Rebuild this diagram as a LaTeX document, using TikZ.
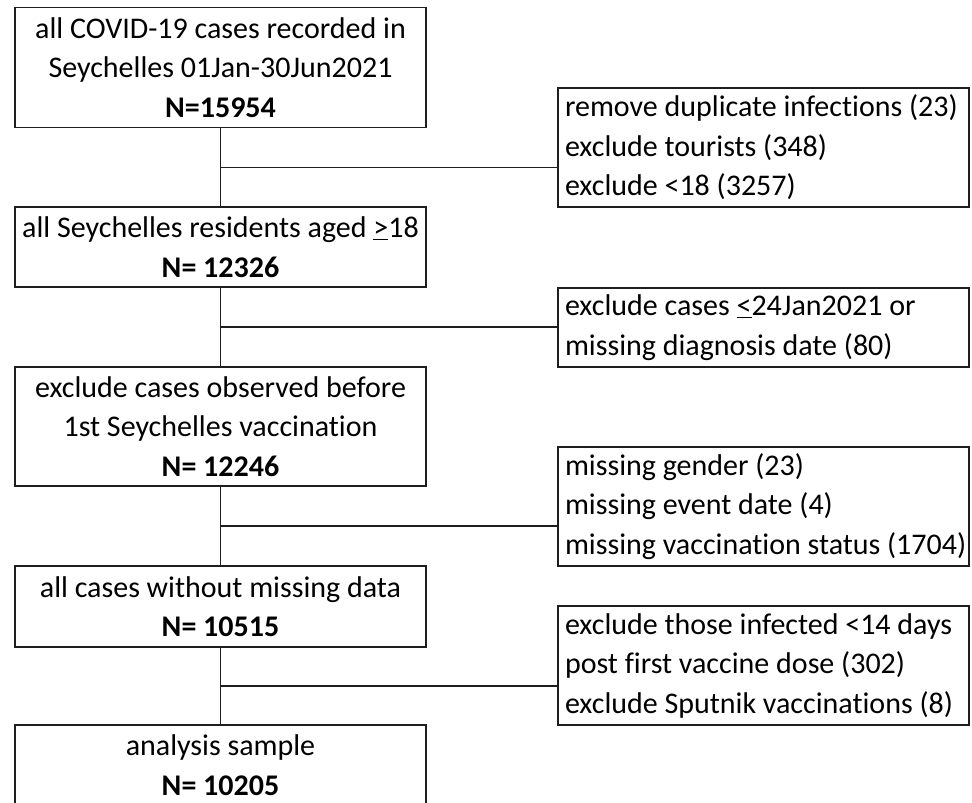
\documentclass[tikz,border=0pt]{standalone}
\usepackage{fontspec}
\setmainfont{Carlito}[Ligatures=NoCommon]
\definecolor{LineGray}{RGB}{30,30,30}
\usetikzlibrary{positioning, calc}

\tikzset{
  mainbox/.style={draw=LineGray, line width=1.3pt, minimum width=411pt, align=center, inner sep=0pt,
    font=\fontsize{30}{39.5}\selectfont},
  sidebox/.style={draw=LineGray, line width=1.3pt, inner xsep=7pt, inner ysep=0pt, text width=397pt, align=flush left,
    font=\fontsize{30}{39.5}\selectfont},
  link/.style={draw=LineGray, line width=1.3pt}
}

\begin{document}
\begin{tikzpicture}[x=1pt, y=-1pt]
  \useasboundingbox (0,0) rectangle (972,803);
  \clip (0,0) rectangle (972,803);

  % main flow
  \node[mainbox, minimum height=120pt] (all) at (220.5,67.5) {all COVID-19 cases recorded in\\Seychelles 01Jan-30Jun2021\\\textbf{N=15954}};
  \node[mainbox, minimum height=80pt] (resid) at (220.5,247) {all Seychelles residents aged \underline{>}18\\\textbf{N= 12326}};
  \node[mainbox, minimum height=119pt] (vacc) at (220.5,426.5) {exclude cases observed before\\1st Seychelles vaccination\\\textbf{N= 12246}};
  \node[mainbox, minimum height=81pt] (nomiss) at (220.5,606.5) {all cases without missing data\\\textbf{N= 10515}};
  \node[mainbox, minimum height=80pt] (sample) at (220.5,765) {analysis sample\\\textbf{N= 10205}};

  % exclusions
  \node[sidebox, minimum height=119pt] (excla) at (763.5,147.5) {remove duplicate infections (23)\\exclude tourists (348)\\exclude <18 (3257)};
  \node[sidebox, minimum height=79pt] (exclb) at (763.5,327.5) {exclude cases \underline{<}24Jan2021 or\\missing diagnosis date (80)};
  \node[sidebox, minimum height=119pt] (exclc) at (763.5,506.5) {missing gender (23)\\missing event date (4)\\\mbox{missing vaccination status (1704)}};
  \node[sidebox, minimum height=119pt] (excld) at (763.5,665.5) {exclude those infected <14 days\\post first vaccine dose (302)\\exclude Sputnik vaccinations (8)};

  \coordinate (ja) at ($(all.south)!0.5!(resid.north)$);
  \coordinate (jb) at ($(resid.south)!0.5!(vacc.north)$);
  \coordinate (jc) at ($(vacc.south)!0.5!(nomiss.north)$);
  \coordinate (jd) at ($(nomiss.south)!0.5!(sample.north)$);

  \draw[link] (all.south) -- (resid.north);
  \draw[link] (resid.south) -- (vacc.north);
  \draw[link] (vacc.south) -- (nomiss.north);
  \draw[link] (nomiss.south) -- (sample.north);

  \draw[link] (ja) -- (ja -| excla.west);
  \draw[link] (jb) -- (jb -| exclb.west);
  \draw[link] (jc) -- (jc -| exclc.west);
  \draw[link] (jd) -- (jd -| excld.west);
\end{tikzpicture}
\end{document}
